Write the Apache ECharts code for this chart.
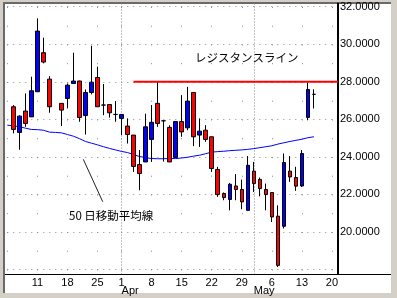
<!DOCTYPE html>
<html><head><meta charset="utf-8">
<script src="https://cdn.jsdelivr.net/npm/echarts@6/dist/echarts.min.js"></script>
<style>html,body{margin:0;padding:0;background:#d4d0c8}#c{width:397px;height:298px}</style>
</head><body><div id="c"></div><script>
const dates = [
 '2002-03-04','2002-03-05','2002-03-06','2002-03-07','2002-03-08',
 '2002-03-11','2002-03-12','2002-03-13','2002-03-14','2002-03-15',
 '2002-03-18','2002-03-19','2002-03-20','2002-03-21','2002-03-22',
 '2002-03-25','2002-03-26','2002-03-27','2002-03-28',
 '2002-04-01','2002-04-02','2002-04-03','2002-04-04','2002-04-05',
 '2002-04-08','2002-04-09','2002-04-10','2002-04-11','2002-04-12',
 '2002-04-15','2002-04-16','2002-04-17','2002-04-18','2002-04-19',
 '2002-04-22','2002-04-23','2002-04-24','2002-04-25','2002-04-26',
 '2002-04-29','2002-04-30',
 '2002-05-01','2002-05-02','2002-05-03',
 '2002-05-06','2002-05-07','2002-05-08','2002-05-09','2002-05-10',
 '2002-05-13','2002-05-14','2002-05-15','2002-05-16','2002-05-17',
 '2002-05-20','2002-05-21'];
const opens = [null,26.67,25.30,26.44,26.13, 27.47,29.55,28.14,null,26.85, 27.11,27.91,28.04,26.20,27.43, 28.23,26.76,26.79,26.26,
 26.05,25.64,25.16,23.59,23.73, 24.93,26.85,25.92,25.57,23.97, 25.88,25.55,27.43,25.16,25.42, 25.07,23.33,22.05,21.73,22.45, 22.26,21.15,
 23.24,22.80,22.26, 22.10,20.84,20.30,23.24,22.90, 22.45,26.10,27.33,null,null, null,null];
const closes = [null,25.46,26.17,25.78,27.52, 30.70,29.05,26.67,null,26.49, 27.82,28.04,26.10,27.43,27.98, 26.67,26.76,26.35,26.26,
 26.26,25.19,23.49,23.11,25.60, 25.84,25.78,25.92,23.73,25.88, 25.33,26.97,25.07,25.37,24.93, 23.38,21.99,21.83,22.54,22.26, 21.60,23.55,
 22.58,22.31,21.99, 20.80,18.22,23.70,22.93,22.44, 24.18,27.59,27.33,null,null, null,null];
const lows = [null,25.25,24.38,25.60,26.13, 27.47,28.98,26.35,null,25.64, 26.58,27.91,25.87,25.19,27.33, 26.67,26.22,26.09,25.87,
 25.16,24.71,23.20,22.22,23.73, 23.73,25.60,23.75,23.73,23.97, 25.07,25.42,24.57,24.53,24.80, 23.20,21.87,21.69,21.15,21.69, 21.21,21.15,
 22.13,21.90,21.15, 20.53,18.13,20.18,22.67,22.19, 22.40,25.95,26.58,null,null, null,null];
const highs = [null,26.76,26.22,27.38,28.27, 31.38,30.35,28.30,null,26.85, 27.91,29.55,28.06,27.59,29.92, 28.80,27.88,26.79,26.97,
 26.26,26.05,25.16,24.36,26.30, 26.76,27.97,25.92,25.68,25.88, 27.29,27.73,27.43,26.05,25.69, 25.07,23.47,22.10,22.61,23.08, 22.79,24.04,
 23.73,22.90,22.58, 22.10,21.42,24.18,24.04,23.47, 24.36,27.95,27.60,null,null, null,null];
const ma50 = [25.69,25.65,25.61,25.53,25.46, 25.45,25.42,25.32,25.30,25.28, 25.19,25.10,24.97,24.82,24.73, 24.64,24.54,24.45,24.37,
 24.29,24.23,24.12,24.02,23.96, 23.91,23.90,23.90,23.91,23.91, 23.94,23.98,24.04,24.09,24.17, 24.25,24.28,24.30,24.33,24.35, 24.37,24.40,
 24.44,24.49,24.54, 24.59,24.68,24.75,24.82,24.88, 24.94,25.02,25.07,null,null, null,null];
const weekDates = ['2002-03-04','2002-03-11','2002-03-18','2002-03-25','2002-04-01','2002-04-08','2002-04-15','2002-04-22','2002-04-29','2002-05-06','2002-05-13','2002-05-20'];
const dayLabelDates = weekDates.slice(1);
const monthStarts = ['2002-04-01','2002-05-01'];
const monthLabels = ['Apr','May'];
const resistanceLevel = 28;
const resistanceFrom = '2002-04-03', resistanceTo = '2002-05-21';
const yLabelValues = [20,22,24,26,28,30,32];

const FONT = 'Liberation Sans, Arial, sans-serif';
const JP = 'Noto Sans CJK JP, sans-serif';
const chart = echarts.init(document.getElementById('c'), null, {renderer:'canvas'});
chart.setOption({
  animation:false,
  backgroundColor:'#d4d0c8',
  grid:{left:7.3, right:59, top:3.5, bottom:24},
  xAxis:[{
    type:'category', data:dates, boundaryGap:false,
    axisLine:{onZero:false, lineStyle:{color:'#000', width:1}},
    axisTick:{show:false},
    axisLabel:{interval:(i,v)=>dayLabelDates.includes(v), formatter:v=>String(+v.slice(8)),
      color:'#000', fontSize:11, fontFamily:FONT, margin:3},
    splitLine:{show:true, interval:(i,v)=>weekDates.includes(v),
      lineStyle:{color:'#8a8a8a', width:1, type:[1,17.75], dashOffset:15.3}}
  },{
    type:'category', data:dates, boundaryGap:false, position:'bottom',
    axisLine:{show:false}, axisTick:{show:false},
    axisLabel:{interval:(i,v)=>monthStarts.includes(v), formatter:v=>{const k=monthStarts.indexOf(v);return k<0?'':monthLabels[k];},
      color:'#000', fontSize:11, fontFamily:FONT, margin:11.5, align:'left'},
    splitLine:{show:true, interval:(i,v)=>monthStarts.includes(v),
      lineStyle:{color:'#8a8a8a', width:1, type:[1,2]}}
  }],
  yAxis:{
    type:'value', position:'right', min:17.76, max:32.17, splitNumber:7, scale:true,
    axisLine:{show:true, lineStyle:{color:'#000', width:2}},
    axisTick:{show:false},
    axisLabel:{formatter:v=>yLabelValues.some(t=>Math.abs(t-v)<1e-6)?v.toFixed(4):'',
      color:'#000', fontSize:11, fontFamily:FONT, margin:2, showMinLabel:false, showMaxLabel:false},
    splitLine:{show:true, showMinLine:false, showMaxLine:false, lineStyle:{color:'#8a8a8a', width:1, type:[1,5]}}
  },
  series:[{
    type:'line', name:'MA50', data:ma50, symbol:'none', z:1,
    lineStyle:{color:'#0000ff', width:1}, silent:true
  },{
    type:'candlestick', z:3, barWidth:4,
    data:dates.map((d,i)=>opens[i]==null?'-':[opens[i],closes[i],lows[i],highs[i]]),
    itemStyle:{color:'#0000ff', color0:'#ff0000', borderColor:'#000', borderColor0:'#000', borderColorDoji:'#000', borderWidth:1},
    silent:true
  },{
    type:'line', name:'resistance', data:[[resistanceFrom,resistanceLevel],[resistanceTo,resistanceLevel]],
    symbol:'none', z:4, lineStyle:{color:'#ff0000', width:2}, silent:true
  }],
  graphic:[
    {type:'rect', z:-100, silent:true, shape:{x:3,y:2,width:388,height:291}, style:{fill:'#6a6a6a'}},
    {type:'rect', z:-99, silent:true, shape:{x:5,y:4,width:386,height:289}, style:{fill:'#ffffff'}},
    {type:'line', z:50, silent:true, shape:{x1:338,y1:274.5,x2:391,y2:274.5}, style:{stroke:'#000', lineWidth:1}},
    {type:'line', z:50, silent:true, shape:{x1:5,y1:274.5,x2:7.5,y2:274.5}, style:{stroke:'#000', lineWidth:1}},
    {type:'text', z:50, silent:true, x:195, y:58, style:{text:'レジスタンスライン', font:'11.5px '+JP, fill:'#000', textVerticalAlign:'middle'}},
    {type:'text', z:50, silent:true, x:69, y:216, style:{text:'50 日移動平均線', font:'11.5px '+JP, fill:'#000', textVerticalAlign:'middle'}},
    {type:'line', z:50, silent:true, shape:{x1:83.3,y1:159.3,x2:102.7,y2:201.7}, style:{stroke:'#222', lineWidth:1}}
  ]
});
</script></body></html>
